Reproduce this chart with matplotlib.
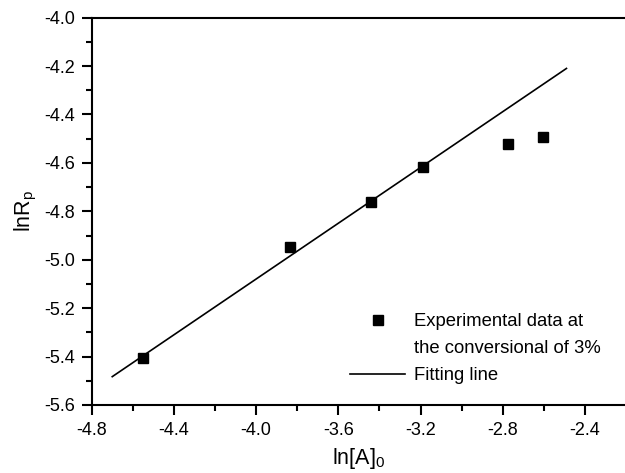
import numpy as np
import matplotlib
matplotlib.use("Agg")
import matplotlib.pyplot as plt

plt.rcParams['font.family'] = ['Liberation Sans', 'DejaVu Sans']
plt.rcParams['mathtext.fontset'] = 'custom'
plt.rcParams['mathtext.rm'] = 'Liberation Sans'
plt.rcParams['mathtext.it'] = 'Liberation Sans'

# data
ln_A0 = [-4.549, -3.834, -3.443, -3.188, -2.776, -2.605]
ln_Rp = [-5.407, -4.949, -4.763, -4.619, -4.524, -4.492]

# fitting line end points
fit_x = [-4.70, -2.49]
fit_y = [-5.483, -4.210]

xticks = [-4.8, -4.4, -4.0, -3.6, -3.2, -2.8, -2.4]
yticks = [-5.6, -5.4, -5.2, -5.0, -4.8, -4.6, -4.4, -4.2, -4.0]

fig = plt.figure(figsize=(6.25, 4.73), dpi=100)
ax = fig.add_axes([0.1467, 0.1438, 0.855, 0.819])

ax.plot(ln_A0, ln_Rp, 's', color='black', markersize=7.5, linestyle='none',
        label='Experimental data at')
# second legend row (text only, continues the label above)
ax.plot([], [], linestyle='none', marker='none', label='the conversional of 3%')
ax.plot(fit_x, fit_y, '-', color='black', linewidth=1.2, label='Fitting line')

ax.set_xlim(-4.8, -2.2)
ax.set_ylim(-5.6, -4.0)
ax.set_xticks(xticks)
ax.set_xticklabels(["%.1f" % v for v in xticks])
ax.set_yticks(yticks)
ax.set_yticklabels(["%.1f" % v for v in yticks])
ax.set_xticks(np.arange(-4.6, -2.2, 0.4), minor=True)
ax.set_yticks(np.arange(-5.5, -4.0, 0.2), minor=True)

ax.spines['right'].set_visible(False)
for s in ['left', 'bottom', 'top']:
    ax.spines[s].set_linewidth(1.5)
ax.tick_params(which='major', direction='out', length=7, width=1.5, labelsize=13)
ax.tick_params(axis='x', which='major', pad=5)
ax.tick_params(axis='y', which='major', pad=5)
ax.tick_params(which='minor', direction='out', length=4, width=1.5)
ax.tick_params(top=False, right=False, which='both')

ax.set_xlabel(r'ln[A]$_\mathregular{0}$', fontsize=15.5, labelpad=5)
ax.set_ylabel(r'lnR$_\mathregular{p}$', fontsize=15.5, labelpad=4)

ax.legend(loc='upper left', bbox_to_anchor=(350 / 625, 1 - 313 / 473),
          bbox_transform=fig.transFigure, frameon=False, borderpad=0,
          borderaxespad=0, fontsize=13.3, handlelength=3.0, handletextpad=0.45,
          labelspacing=0.55)

plt.savefig("out.png", dpi=100)
